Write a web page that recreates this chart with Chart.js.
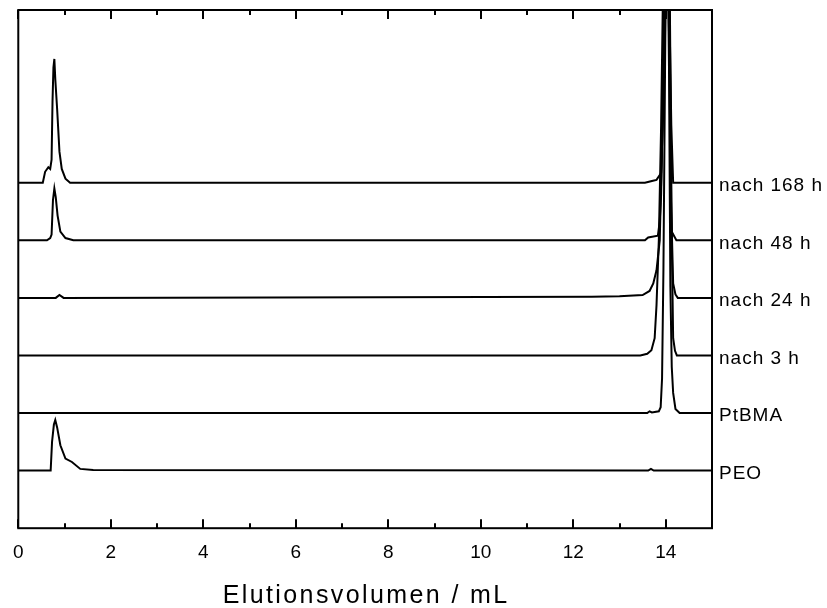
<!DOCTYPE html>
<html>
<head>
<meta charset="utf-8">
<script src="https://cdn.jsdelivr.net/npm/chart.js@4.4.1/dist/chart.umd.min.js"></script>
<style>
  body { margin: 0; background: #fff; }
  #wrap { width: 827px; height: 608px; }
</style>
</head>
<body>
<div id="wrap"><canvas id="gpc" width="827" height="608"></canvas></div>
<script>
// trace names (bottom to top) and their vertical offsets
const traceNames = ['PEO', 'PtBMA', 'nach 3 h', 'nach 24 h', 'nach 48 h', 'nach 168 h'];
const traceOffsets = [1, 2, 3, 4, 5, 6];

// elution volume (mL) and detector signal for each trace
const volPEO = [0, 0.70, 0.73, 0.77, 0.80, 0.84, 0.91, 1.02, 1.16, 1.34, 1.62, 13.62, 13.68, 13.74, 15];
const sigPEO = [0, 0, 0.5, 0.8, 0.88, 0.75, 0.44, 0.21, 0.15, 0.03, 0.01, 0, 0.03, 0, 0];

const volPtBMA = [0, 13.60, 13.65, 13.70, 13.85, 13.89, 13.92, 13.95, 13.99, 14.03, 14.07, 14.10, 14.13, 14.16, 14.21, 14.30, 15];
const sigPtBMA = [0, 0, 0.03, 0.01, 0.03, 0.1, 0.6, 2.5, 6.5, 9, 6.0, 2.2, 0.8, 0.35, 0.07, 0, 0];

const vol3h = [0, 13.45, 13.60, 13.69, 13.76, 13.80, 13.85, 13.90, 13.96, 14.03, 14.09, 14.13, 14.16, 14.20, 14.24, 15];
const sig3h = [0, 0, 0.03, 0.09, 0.3, 0.87, 2.0, 4.0, 7.5, 9, 6, 2, 0.3, 0.08, 0, 0];

const vol24h = [0, 0.81, 0.89, 0.98, 12.4, 13.0, 13.5, 13.65, 13.73, 13.80, 13.87, 13.93, 13.98, 14.03, 14.08, 14.12, 14.16, 14.21, 14.26, 15];
const sig24h = [0, 0, 0.05, 0, 0.02, 0.03, 0.05, 0.12, 0.25, 0.48, 1.0, 3, 6, 8, 5, 1.5, 0.25, 0.06, 0, 0];

const vol48h = [0, 0.62, 0.69, 0.72, 0.75, 0.78, 0.81, 0.85, 0.91, 1.02, 1.19, 13.55, 13.62, 13.83, 13.87, 13.90, 13.94, 13.99, 14.03, 14.08, 14.11, 14.13, 14.23, 15];
const sig48h = [0, 0, 0.04, 0.1, 0.7, 0.9, 0.75, 0.43, 0.15, 0.04, 0, 0, 0.05, 0.08, 0.33, 0.8, 2.5, 5, 6, 3, 0.8, 0.15, 0, 0];

const vol168h = [0, 0.53, 0.58, 0.65, 0.69, 0.72, 0.74, 0.76, 0.78, 0.80, 0.84, 0.89, 0.94, 1.02, 1.12, 13.55, 13.70, 13.80, 13.90, 13.94, 13.98, 14.03, 14.08, 14.12, 14.16, 15];
const sig168h = [0, 0, 0.19, 0.27, 0.24, 0.4, 1.4, 2.0, 2.15, 1.8, 1.28, 0.54, 0.24, 0.07, 0, 0, 0.03, 0.05, 0.17, 1.1, 3, 4, 3, 1.0, 0, 0];

const traceVols = [volPEO, volPtBMA, vol3h, vol24h, vol48h, vol168h];
const traceSigs = [sigPEO, sigPtBMA, sig3h, sig24h, sig48h, sig168h];

// axis ticks
const xTicks = [0, 2, 4, 6, 8, 10, 12, 14];
const xMinorTicks = [1, 3, 5, 7, 9, 11, 13];

const FONT = "'Liberation Sans', Arial, sans-serif";

const datasets = traceNames.map((name, k) => ({
  label: name,
  data: traceVols[k].map((v, i) => ({ x: v, y: traceSigs[k][i] + traceOffsets[k] })),
  borderColor: '#000',
  borderWidth: 2,
  pointRadius: 0,
  tension: 0,
  fill: false
}));

const framePlugin = {
  id: 'frame',
  afterDraw(chart) {
    const { ctx, chartArea: a, scales } = chart;
    const xs = scales.x, ys = scales.y;
    ctx.save();
    ctx.strokeStyle = '#000';
    ctx.lineWidth = 2;
    ctx.strokeRect(a.left, a.top, a.right - a.left, a.bottom - a.top);
    // inward ticks, bottom and top
    ctx.beginPath();
    xTicks.forEach(v => {
      const px = Math.round(xs.getPixelForValue(v));
      ctx.moveTo(px, a.bottom); ctx.lineTo(px, a.bottom - 9);
      ctx.moveTo(px, a.top); ctx.lineTo(px, a.top + 9);
    });
    xMinorTicks.forEach(v => {
      const px = Math.round(xs.getPixelForValue(v));
      ctx.moveTo(px, a.bottom); ctx.lineTo(px, a.bottom - 5);
      ctx.moveTo(px, a.top); ctx.lineTo(px, a.top + 5);
    });
    ctx.stroke();

    // trace labels on the right
    ctx.fillStyle = '#000';
    ctx.font = '19px ' + FONT;
    ctx.letterSpacing = '1px';
    ctx.textAlign = 'left';
    ctx.textBaseline = 'middle';
    traceNames.forEach((name, k) => {
      ctx.fillText(name, a.right + 7, ys.getPixelForValue(traceOffsets[k]) + 3);
    });

    // axis title
    ctx.font = '25px ' + FONT;
    ctx.letterSpacing = '2.4px';
    ctx.textAlign = 'center';
    ctx.textBaseline = 'alphabetic';
    ctx.fillText('Elutionsvolumen / mL', (a.left + a.right) / 2 + 1, 603);
    ctx.restore();
  }
};

new Chart(document.getElementById('gpc'), {
  type: 'line',
  data: { datasets },
  options: {
    responsive: false,
    animation: false,
    layout: { padding: { left: 18, right: 115, top: 10, bottom: 31 } },
    plugins: { legend: { display: false }, tooltip: { enabled: false } },
    scales: {
      x: {
        type: 'linear',
        min: 0,
        max: 15,
        afterBuildTicks: s => { s.ticks = xTicks.map(v => ({ value: v })); },
        grid: { display: false, drawTicks: false },
        border: { display: false },
        ticks: { color: '#000', padding: 13, font: { family: FONT, size: 19 } }
      },
      y: {
        display: false,
        min: 0,
        max: 9
      }
    }
  },
  plugins: [framePlugin]
});
</script>
</body>
</html>
